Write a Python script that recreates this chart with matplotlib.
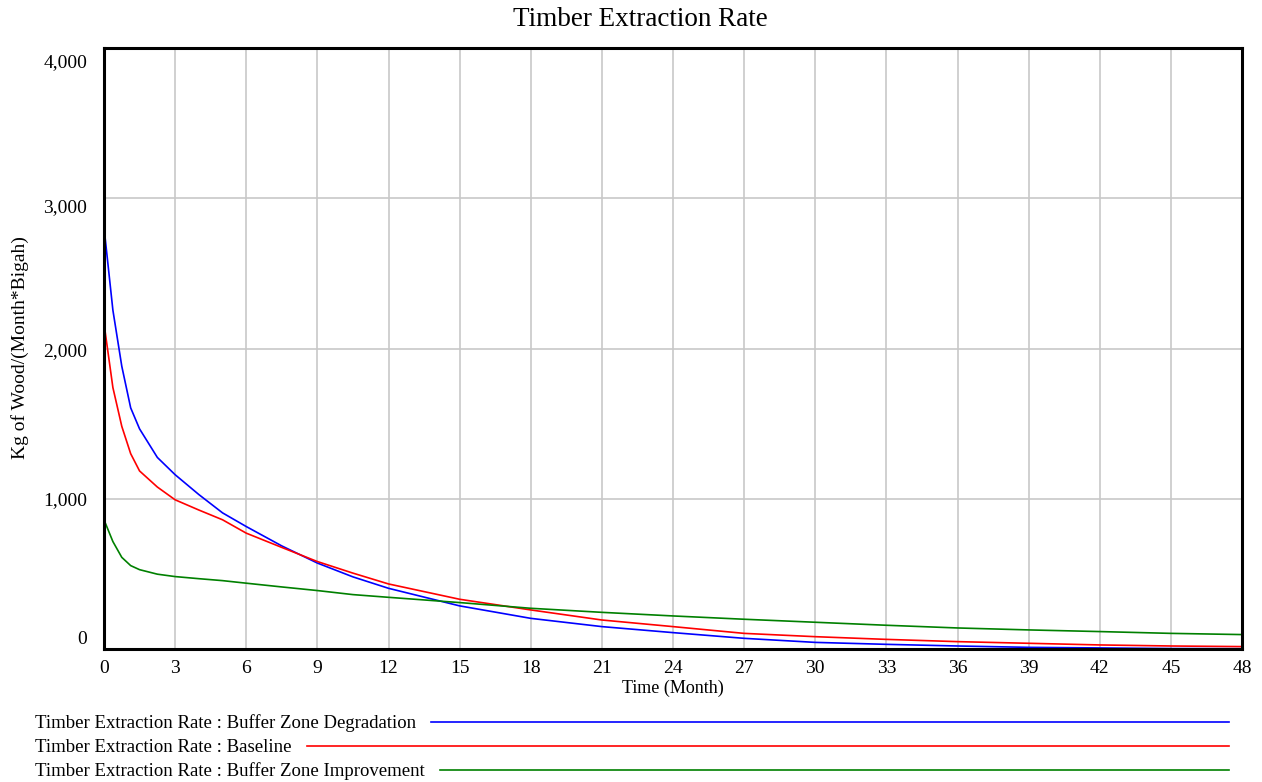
import matplotlib.pyplot as plt
from matplotlib.lines import Line2D
from matplotlib.transforms import ScaledTranslation

plt.rcParams["font.family"] = ["Liberation Serif", "DejaVu Serif"]

time = [0, 0.375, 0.75, 1.125, 1.5, 2.25, 3, 4, 5, 6, 7.5, 9, 10.5, 12,
        15, 18, 21, 24, 27, 30, 33, 36, 39, 42, 45, 48]
degradation = [2807, 2255, 1882, 1605, 1465, 1275, 1160, 1028, 906, 815, 686,
               572, 480, 404, 287, 204, 149, 109, 71, 44, 31, 20, 11, 7, 3, 2]
baseline = [2167, 1740, 1482, 1300, 1185, 1078, 993, 925, 860, 771, 676,
            582, 505, 433, 331, 260, 193, 149, 104, 82, 64, 49, 38, 27, 20, 16]
improvement = [860, 715, 610, 555, 528, 498, 482, 468, 455, 438, 413,
               389, 362, 344, 309, 271, 244, 220, 198, 178, 158, 140, 127,
               116, 104, 96]

series = [
    ("Timber Extraction Rate : Buffer Zone Degradation", degradation, "#0000ff"),
    ("Timber Extraction Rate : Baseline", baseline, "#ff0000"),
    ("Timber Extraction Rate : Buffer Zone Improvement", improvement, "#008000"),
]

xticks = list(range(0, 49, 3))
yticks = [0, 1000, 2000, 3000, 4000]

W, H = 1262, 782
fig = plt.figure(figsize=(W / 100, H / 100), dpi=100)
ax = fig.add_axes([104 / W, 1 - 649 / H, (1242 - 104) / W, (649 - 48) / H])

for label, vals, color in series:
    ax.plot(time, vals, color=color, lw=1.2)

ax.set_xlim(0, 48)
ax.set_ylim(0, 4000)
ax.set_xticks(xticks)
ax.set_yticks(yticks)
ax.set_yticklabels([f"{v:,}" for v in yticks])
ax.grid(True, color="#c8c8c8", lw=1.2)
ax.set_axisbelow(True)
ax.tick_params(length=0, labelsize=14)
ax.tick_params(axis="x", pad=8)
ax.tick_params(axis="y", pad=12)
for sp in ax.spines.values():
    sp.set_linewidth(2.2)
    sp.set_color("black")

# vensim-style label shifts
shifts = [11, 0, -1, -7, -13]
for lab, dy in zip(ax.get_yticklabels(), shifts):
    lab.set_transform(lab.get_transform() + ScaledTranslation(0, dy / 100, fig.dpi_scale_trans))

ax.set_xlabel("Time (Month)", fontsize=13, labelpad=2)
fig.text(20 / W, 1 - 348 / H, "Kg of Wood/(Month*Bigah)", rotation=90,
         ha="center", va="center", fontsize=14)

fig.text(640 / W, 1 - 20 / H, "Timber Extraction Rate", ha="center", va="center", fontsize=19.5)

# legend below the chart
fig.canvas.draw()
renderer = fig.canvas.get_renderer()
rows_y = [723, 747, 771]
for (label, vals, color), yy in zip(series, rows_y):
    t = fig.text(35 / W, 1 - yy / H, label, ha="left", va="center", fontsize=13.5)
    bb = t.get_window_extent(renderer)
    x0 = bb.x1 + 15
    fig.add_artist(Line2D([x0 / W, 1229 / W], [1 - (yy - 1) / H] * 2, color=color, lw=1.2))

fig.savefig("out.png", dpi=100)
